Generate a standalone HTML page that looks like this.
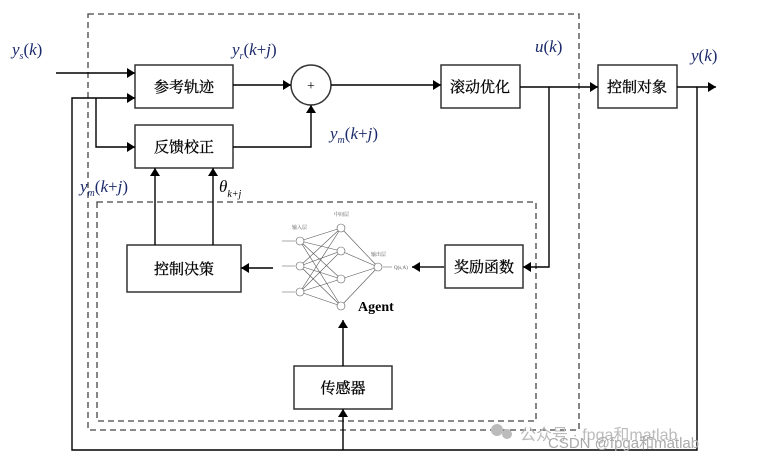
<!DOCTYPE html>
<html><head><meta charset="utf-8"><style>
body{margin:0;background:#fff}
.s{font-family:"Liberation Serif","Noto Serif CJK SC",serif}
.w{font-family:"Liberation Sans","Noto Sans CJK SC",sans-serif}
</style></head><body>
<svg width="774" height="462" viewBox="0 0 774 462" xmlns="http://www.w3.org/2000/svg">
<defs>
<marker id="a" markerWidth="8" markerHeight="10" refX="8" refY="5" orient="auto" markerUnits="userSpaceOnUse"><path d="M0,0 L8,5 L0,10 Z" fill="#000"/></marker>
</defs>
<g fill="none" stroke="#444" stroke-width="1.3" stroke-dasharray="6,4">
<rect x="88" y="14" width="491" height="416"/>
<rect x="97" y="202" width="439" height="219"/>
</g>
<g fill="#fff" stroke="#333" stroke-width="1.5">
<rect x="135" y="65" width="98" height="43"/>
<rect x="135" y="125" width="98" height="43"/>
<circle cx="311" cy="85" r="20"/>
<rect x="441" y="65" width="79" height="43"/>
<rect x="598" y="65" width="79" height="43"/>
<rect x="445" y="245" width="78" height="43"/>
<rect x="127" y="245" width="114" height="47"/>
<rect x="294" y="366" width="98" height="43"/>
</g>
<g stroke="#000" stroke-width="1.4" fill="none">
<line x1="56" y1="73" x2="135" y2="73" marker-end="url(#a)"/>
<polyline points="697,87 697,450 72,450 72,98 135,98" marker-end="url(#a)"/>
<polyline points="96,98 96,147 135,147" marker-end="url(#a)"/>
<line x1="233" y1="85" x2="291" y2="85" marker-end="url(#a)"/>
<polyline points="233,147 311,147 311,105" marker-end="url(#a)"/>
<line x1="331" y1="85" x2="441" y2="85" marker-end="url(#a)"/>
<line x1="520" y1="87" x2="598" y2="87" marker-end="url(#a)"/>
<line x1="677" y1="87" x2="716" y2="87" marker-end="url(#a)"/>
<polyline points="549,87 549,267 523,267" marker-end="url(#a)"/>
<line x1="445" y1="267" x2="412" y2="267" marker-end="url(#a)" stroke="#555" stroke-width="2"/>
<line x1="273" y1="268" x2="241" y2="268" marker-end="url(#a)"/>
<line x1="155" y1="245" x2="155" y2="168" marker-end="url(#a)"/>
<line x1="213" y1="245" x2="213" y2="168" marker-end="url(#a)"/>
<line x1="343" y1="366" x2="343" y2="320" marker-end="url(#a)"/>
<line x1="343" y1="450" x2="343" y2="409" marker-end="url(#a)"/>
</g>
<g stroke="#555" stroke-width="0.6" fill="none">
<path d="M300,241 L341,228 M300,241 L341,251 M300,241 L341,279 M300,241 L341,306 M300,266 L341,228 M300,266 L341,251 M300,266 L341,279 M300,266 L341,306 M300,292 L341,228 M300,292 L341,251 M300,292 L341,279 M300,292 L341,306 M341,228 L378,267 M341,251 L378,267 M341,279 L378,267 M341,306 L378,267"/>
<circle cx="300" cy="241" r="4" fill="#fff"/><circle cx="300" cy="266" r="4" fill="#fff"/><circle cx="300" cy="292" r="4" fill="#fff"/>
<circle cx="341" cy="228" r="4" fill="#fff"/><circle cx="341" cy="251" r="4" fill="#fff"/><circle cx="341" cy="279" r="4" fill="#fff"/><circle cx="341" cy="306" r="4" fill="#fff"/>
<circle cx="378" cy="267" r="4" fill="#fff"/>
<path d="M282,241 L295,241 M282,266 L295,266 M282,292 L295,292 M383,267 L392,267"/>
</g>
<g font-size="5" fill="#555" class="s"><text x="292" y="229">输入层</text><text x="334" y="216">中间层</text><text x="371" y="256">输出层</text><text x="394" y="269">Q(s,A)</text></g>
<text x="358" y="311" font-size="14" font-weight="bold" class="s">Agent</text>
<g font-size="15" text-anchor="middle" fill="#000" class="s" stroke="#000" stroke-width="0.3">
<text x="184" y="92">参考轨迹</text>
<text x="184" y="152">反馈校正</text>
<text x="480" y="92">滚动优化</text>
<text x="637" y="92">控制对象</text>
<text x="484" y="272">奖励函数</text>
<text x="184" y="274">控制决策</text>
<text x="343" y="393">传感器</text>
<text x="311" y="90" font-size="14" stroke="none">+</text>
</g>
<g font-style="italic" font-size="17" fill="#1a2a6a" class="s">
<text x="12" y="55">y<tspan font-size="10" dy="4">s</tspan><tspan dy="-4" font-style="normal">(</tspan>k<tspan font-style="normal">)</tspan></text>
<text x="232" y="55">y<tspan font-size="10" dy="4">r</tspan><tspan dy="-4" font-style="normal">(</tspan>k<tspan font-style="normal">+</tspan>j<tspan font-style="normal">)</tspan></text>
<text x="330" y="139">y<tspan font-size="10" dy="4">m</tspan><tspan dy="-4" font-style="normal">(</tspan>k<tspan font-style="normal">+</tspan>j<tspan font-style="normal">)</tspan></text>
<text x="80" y="192">y<tspan font-size="10" dy="4">m</tspan><tspan dy="-4" font-style="normal">(</tspan>k<tspan font-style="normal">+</tspan>j<tspan font-style="normal">)</tspan></text>
<text x="219" y="192" fill="#000">θ<tspan font-size="10" dy="5">k+j</tspan></text>
<text x="535" y="52">u<tspan font-style="normal">(</tspan>k<tspan font-style="normal">)</tspan></text>
<text x="691" y="61">y<tspan font-style="normal">(</tspan>k<tspan font-style="normal">)</tspan></text>
</g>
<g fill="#bbb">
<circle cx="497" cy="430" r="6"/><circle cx="507" cy="434" r="5"/>
<text x="520" y="440" font-size="16" class="w">公众号 · fpga和matlab</text>
<text x="548" y="448" font-size="15" fill="#aaa" class="w">CSDN @fpga和matlab</text>
</g>
</svg>
</body></html>
